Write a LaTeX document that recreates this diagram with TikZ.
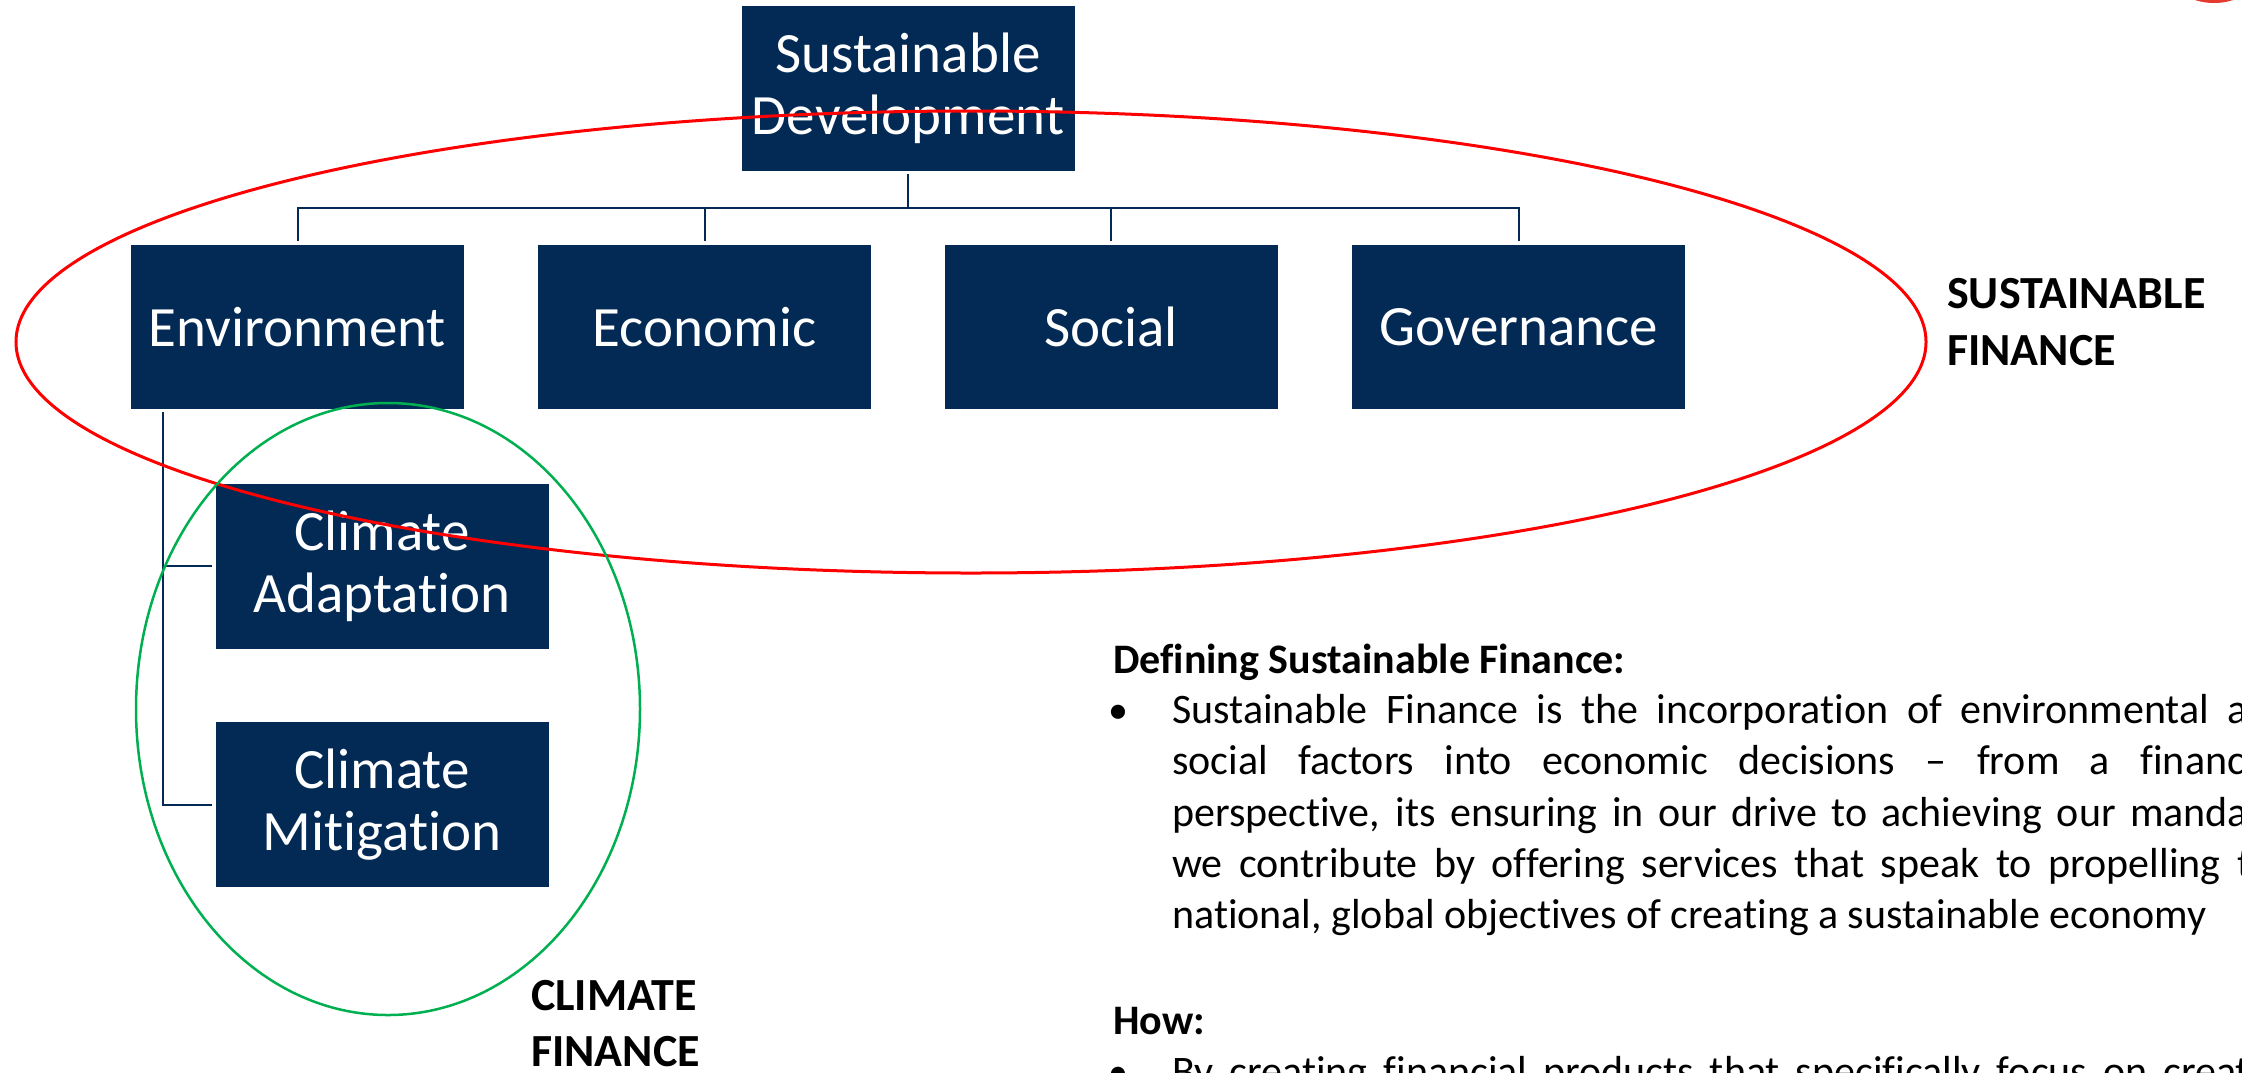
\documentclass[tikz,border=0pt]{standalone}
\usepackage{fontspec}
\setmainfont{Carlito}[Ligatures=CommonOff]
\usetikzlibrary{calc}
\definecolor{navy}{HTML}{032A55}
\definecolor{redline}{HTML}{FF0000}
\definecolor{greenline}{HTML}{00B050}
\definecolor{logored}{HTML}{E53A2F}
\begin{document}
\begin{tikzpicture}[x=1pt,y=-1pt,
  box/.style={fill=navy, text=white, inner sep=0pt, minimum width=333pt, minimum height=164pt,
    align=center, font=\fontsize{57}{62}\selectfont},
  conn/.style={draw=navy, line width=2pt},
  biglabel/.style={font=\fontsize{46}{56}\selectfont\bfseries, inner sep=0pt, anchor=base west},
  body/.style={font=\fontsize{42}{51.3}\selectfont, inner sep=0pt, anchor=base west},
  bodybold/.style={body, font=\fontsize{42}{51.3}\selectfont\bfseries},
  bulletmark/.style={font=\fontsize{40}{51.3}\selectfont, inner sep=0pt, anchor=base},
]
\clip (0,0) rectangle (2242,1072);
\fill[white] (0,0) rectangle (2242,1072);

% boxes
\node[box, minimum height=165pt] (sd) at (908,88.5) {Sustainable\\Development};
\node[box] (env) at (297.5,327) {Environment};
\node[box] (eco) at (704.5,327) {Economic};
\node[box] (soc) at (1111,327) {Social};
\node[box] (gov) at (1518.5,327) {Governance};
\node[box, minimum height=165pt] (adapt) at (382,566) {Climate\\Adaptation};
\node[box, minimum height=165pt] (mitig) at (382,804.5) {Climate\\Mitigation};

% connectors
\coordinate (bar) at ($(sd.south)+(0,37)$);
\draw[conn, shorten <=3pt] (sd.south) -- (bar);
\draw[conn, shorten >=4pt] (bar) -| (env.north);
\draw[conn, shorten >=4pt] (bar) -| (eco.north);
\draw[conn, shorten >=4pt] (bar) -| (soc.north);
\draw[conn, shorten >=4pt] (bar) -| (gov.north);
\coordinate (trunk) at ($(env.south west)+(32,3)$);
\draw[conn, shorten >=3pt] (trunk) |- (adapt.west);
\draw[conn, shorten >=3pt] (trunk) |- (mitig.west);

% ellipses
\draw[redline, line width=3pt] (971,342) ellipse [x radius=955, y radius=231];
\draw[greenline, line width=2.5pt] (388,709) ellipse [x radius=252, y radius=306];

% red mark at top right
\fill[logored] (2214,-59) circle [radius=62];

% labels
\node[biglabel] (sf1) at (1947,308) {SUSTAINABLE};
\node[biglabel] (sf2) at (1947,365) {FINANCE};
\node[biglabel] (cf1) at (531,1010) {CLIMATE};
\node[biglabel] (cf2) at (531,1066) {FINANCE};

% body text
\node[bodybold] (def) at (1113,673) {Defining Sustainable Finance:};
\node[bulletmark] (bu1) at (1118.5,723) {•};
\node[body] (l1) at (1172,723) {\makebox[1076pt][s]{Sustainable Finance is the incorporation of environmental a}};
\node[body] (l2) at (1172,774.5) {\makebox[1073pt][s]{social factors into economic decisions – from a financ}};
\node[body] (l3) at (1172,826) {\makebox[1076pt][s]{perspective, its ensuring in our drive to achieving our manda}};
\node[body] (l4) at (1172,877) {\makebox[1079pt][s]{we contribute by offering services that speak to propelling t}};
\node[body] (l5) at (1172,928) {national, global objectives of creating a sustainable economy};
\node[bodybold] (how) at (1113,1034) {How:};
\node[bulletmark] (bu2) at (1118.5,1085) {•};
\node[body] (l6) at (1172,1085) {\makebox[1078pt][s]{By creating financial products that specifically focus on creat}};
\end{tikzpicture}
\end{document}
